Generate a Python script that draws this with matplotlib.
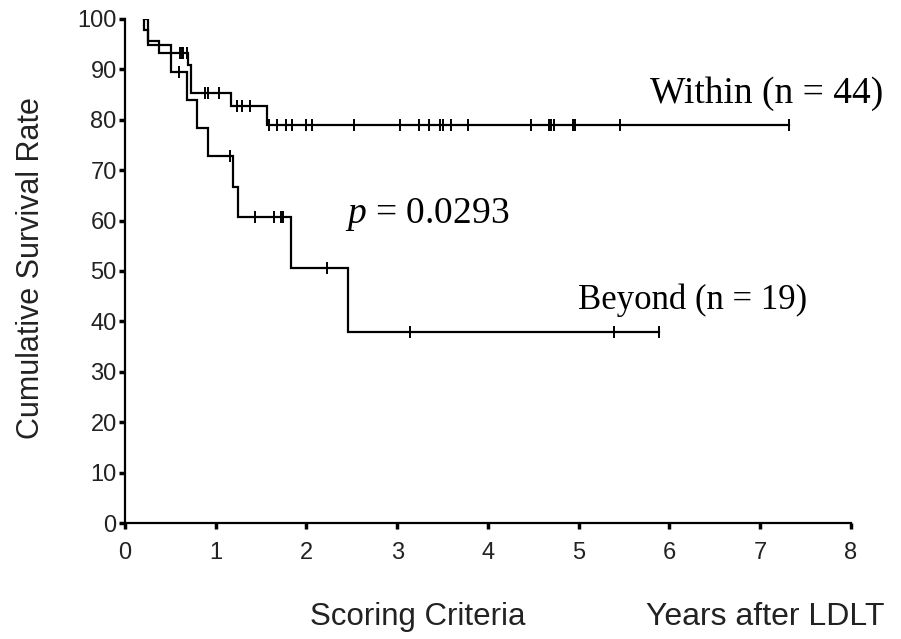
import numpy as np
import matplotlib
matplotlib.use("Agg")
import matplotlib.pyplot as plt

# Kaplan-Meier steps: event times (years) and survival level after each drop (%)
start_time = 0.21

within_times = [0.21, 0.25, 0.38, 0.69, 0.73, 1.17, 1.57]
within_surv = [97.7, 95.5, 93.2, 90.8, 85.3, 82.6, 79.0]
within_end = 7.32
within_censor = [0.61, 0.63, 0.64, 0.68, 0.88, 0.91, 1.04, 1.23, 1.29, 1.38,
                 1.59, 1.67, 1.77, 1.84, 2.00, 2.06, 2.52, 3.03, 3.24, 3.35,
                 3.47, 3.50, 3.59, 3.78, 4.47, 4.67, 4.69, 4.73, 4.94, 4.96,
                 5.45, 7.32]

beyond_times = [0.25, 0.51, 0.68, 0.79, 0.92, 1.19, 1.25, 1.83, 2.46]
beyond_surv = [94.7, 89.5, 83.9, 78.3, 72.7, 66.6, 60.6, 50.5, 37.9]
beyond_end = 5.88
beyond_censor = [0.59, 1.16, 1.43, 1.64, 1.72, 1.74, 2.23, 3.14, 5.39, 5.88]

x_ticks = [0, 1, 2, 3, 4, 5, 6, 7, 8]
y_ticks = [0, 10, 20, 30, 40, 50, 60, 70, 80, 90, 100]

label_within = "Within (n = 44)"
label_beyond = "Beyond (n = 19)"
label_p = r"$p$ = 0.0293"

plt.rcParams["mathtext.fontset"] = "custom"
plt.rcParams["mathtext.it"] = "Liberation Serif:italic"
plt.rcParams["mathtext.rm"] = "Liberation Serif"

sans = ["Liberation Sans", "DejaVu Sans"]
serif = ["Liberation Serif", "DejaVu Serif"]

fig = plt.figure(figsize=(9.01, 6.39), dpi=100)
ax = fig.add_axes([0.1387, 0.1808, 0.8058, 0.7902])


def km_curve(times, surv, end):
    x = [start_time] + list(times) + [end]
    y = [100.0] + list(surv) + [surv[-1]]
    return np.array(x), np.array(y)


def level_at(times, surv, t):
    idx = np.searchsorted(times, t, side="right")
    levels = np.concatenate([[100.0], surv])
    return levels[idx]


for times, surv, end, cens in [
    (within_times, within_surv, within_end, within_censor),
    (beyond_times, beyond_surv, beyond_end, beyond_censor),
]:
    x, y = km_curve(times, surv, end)
    ax.step(x, y, where="post", color="black", lw=1.6, solid_joinstyle="miter")
    cy = [level_at(np.array(times), np.array(surv), t) for t in cens]
    ax.plot(cens, cy, ls="none", marker="|", ms=8, mew=1.4, color="black")

ax.set_xlim(0, 8)
ax.set_ylim(0, 100)
ax.set_xticks(x_ticks)
ax.set_yticks(y_ticks)
ax.set_xticklabels([str(v) for v in x_ticks], family=sans, fontsize=17)
ax.set_yticklabels([str(v) for v in y_ticks], family=sans, fontsize=17)
ax.tick_params(direction="out", length=4, width=2.5, color="black",
               labelcolor="#222222", pad=2)
ax.tick_params(axis="x", pad=9)
for side in ("top", "right"):
    ax.spines[side].set_visible(False)
for side in ("left", "bottom"):
    ax.spines[side].set_linewidth(1.6)
ax.margins(0)

ax.text(5.785, 85.2, label_within, family=serif, fontsize=27,
        ha="left", va="center")
ax.text(4.99, 44.3, label_beyond, family=serif, fontsize=25,
        ha="left", va="center")
ax.text(2.42, 61.1, label_p, family=serif, fontsize=27,
        ha="left", va="center")

fig.text(31 / 901, 1 - 268 / 639, "Cumulative Survival Rate", family=sans,
         fontsize=22, rotation=90, ha="center", va="center", color="#222222")
fig.text(310 / 901, 1 - 617 / 639, "Scoring Criteria", family=sans,
         fontsize=22.5, ha="left", va="center", color="#222222")
fig.text(885 / 901, 1 - 617 / 639, "Years after LDLT", family=sans,
         fontsize=23, ha="right", va="center", color="#222222")

fig.savefig("out.png", dpi=100)
